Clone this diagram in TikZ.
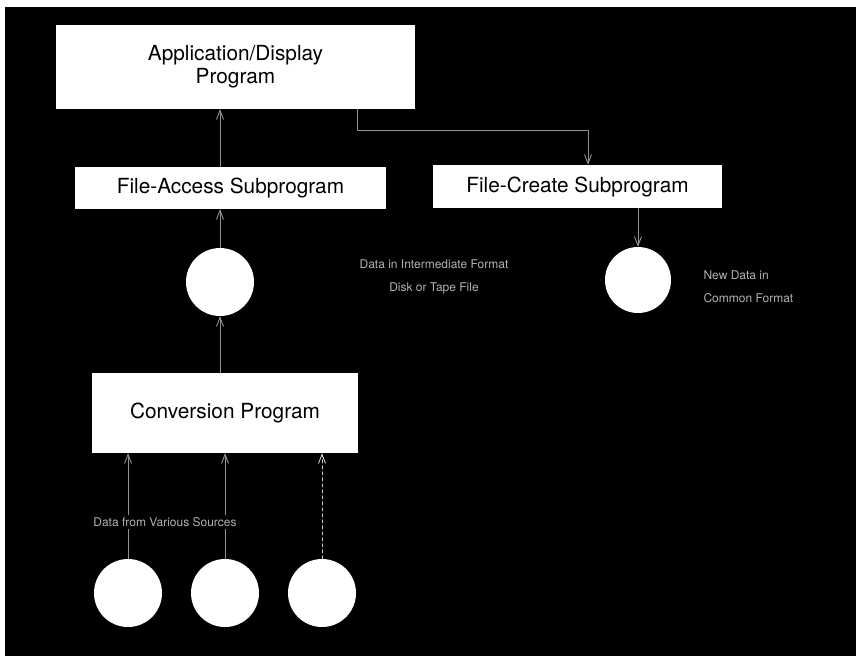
\documentclass[tikz,border=0pt]{standalone}
\usepackage{fontspec}
\setmainfont{TeX Gyre Heros}
\usetikzlibrary{arrows.meta}
\begin{document}
\begin{tikzpicture}[x=1pt, y=-1pt, line join=round, line cap=round,
	box/.style={fill=white, text=black, inner sep=0pt, align=center, font=\fontsize{20.8}{23}\selectfont},
	disk/.style={circle, fill=white, inner sep=0pt, minimum size=#1},
	flow/.style={draw=gray!85, line width=0.9pt, -{Straight Barb[length=9pt,width=7pt]}},
	note/.style={text=gray!60, align=center, font=\fontsize{12}{23}\selectfont}]
	\fill[white] (0,0) rectangle (856,656);
	\fill[black] (5,7) rectangle (856,656);
	\useasboundingbox (0,0) rectangle (856,656);
	% programs
	\node[box, minimum width=359, minimum height=84] (app) at (235.5,67) {Application/Display\\Program};
	\node[box, minimum width=311, minimum height=42] (access) at (230.5,188) {File-Access Subprogram};
	\node[box, minimum width=289, minimum height=43] (create) at (577.5,186.5) {File-Create Subprogram};
	\node[box, minimum width=266, minimum height=80] (conv) at (225,413) {Conversion Program};
	% data files
	\node[disk=68] (store) at (220,282) {};
	\node[disk=66] (newfile) at (638,280) {};
	\foreach \n/\x in {1/128,2/225,3/322} {
			\node[disk=68] (src\n) at (\x,593) {};
		}
	\path (357,0) coordinate (tap)
	(588,130) coordinate (drop);
	% connectors
	\draw[flow] (store.north) -- (store.north |- access.south);
	\draw[flow] (access.north -| store) -- (app.south -| store);
	\draw[flow] (conv.north -| store) -- (store.south);
	\draw[flow] (app.south -| tap) |- (drop) -- (create.north -| drop);
	\draw[flow] (create.south -| newfile) -- (newfile.north);
	\foreach \n in {1,2} {
			\draw[flow] (src\n.north) -- (src\n.north |- conv.south);
		}
	\draw[flow, draw=gray!40, dashed] (src3.north) -- (src3.north |- conv.south);
	% labels
	\node[note] (midnote) at (434,277) {Data in Intermediate Format\\Disk or Tape File};
	\node[note, align=left, anchor=west] (newnote) at (700,287) {New Data in\\Common Format};
	\node[note, fill=black, inner sep=2pt] (srcnote) at (165,522) {Data from Various Sources};
\end{tikzpicture}
\end{document}
